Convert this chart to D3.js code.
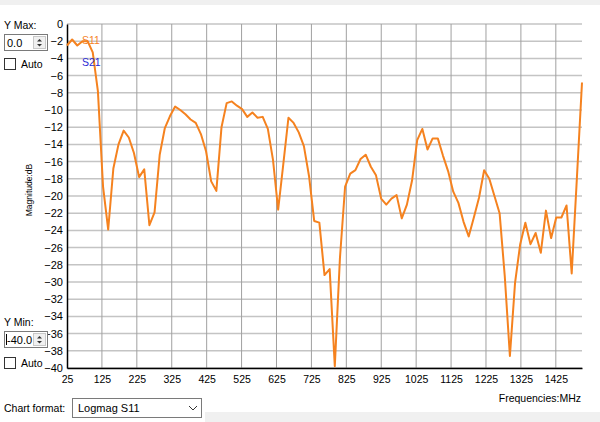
<!DOCTYPE html>
<html>
<head>
<meta charset="utf-8">
<script src="https://cdn.jsdelivr.net/npm/d3@7"></script>
<style>
  body { margin: 0; background: #ffffff; }
  svg { display: block; }
  .ui { font-family: "Liberation Sans", Arial, sans-serif; font-size: 10.5px; fill: #000; }
  .tick text { font-family: "Liberation Sans", Arial, sans-serif; }
</style>
</head>
<body>
<svg id="chart" width="600" height="422"></svg>
<script>
// sweep frequencies (MHz)
var freqs = [25, 39.75, 54.5, 69.25, 84, 98.75, 113.5, 128.25, 143, 157.75,
  172.5, 187.25, 202, 216.75, 231.5, 246.25, 261, 275.75, 290.5, 305.25,
  320, 334.75, 349.5, 364.25, 379, 393.75, 408.5, 423.25, 438, 452.75,
  467.5, 482.25, 497, 511.75, 526.5, 541.25, 556, 570.75, 585.5, 600.25,
  615, 629.75, 644.5, 659.25, 674, 688.75, 703.5, 718.25, 733, 747.75,
  762.5, 777.25, 792, 806.75, 821.5, 836.25, 851, 865.75, 880.5, 895.25,
  910, 924.75, 939.5, 954.25, 969, 983.75, 998.5, 1013.25, 1028, 1042.75,
  1057.5, 1072.25, 1087, 1101.75, 1116.5, 1131.25, 1146, 1160.75, 1175.5, 1190.25,
  1205, 1219.75, 1234.5, 1249.25, 1264, 1278.75, 1293.5, 1308.25, 1323, 1337.75,
  1352.5, 1367.25, 1382, 1396.75, 1411.5, 1426.25, 1441, 1455.75, 1470.5, 1485.25,
  1500];

// S11 logmag (dB)
var s11 = [-2.5, -1.8, -2.5, -2.0, -2.0, -3.3, -7.8, -18.9, -23.9, -16.8,
  -14.0, -12.4, -13.2, -15.0, -17.8, -16.9, -23.4, -21.9, -15.2, -12.1,
  -10.7, -9.6, -10.0, -10.5, -11.1, -11.5, -12.8, -14.8, -18.3, -19.4,
  -12.0, -9.2, -9.0, -9.5, -9.9, -10.8, -10.3, -10.9, -10.8, -12.2,
  -15.8, -21.6, -16.3, -10.9, -11.5, -12.6, -14.2, -17.7, -22.9, -23.1,
  -29.2, -28.5, -39.8, -27.2, -18.9, -17.4, -17.0, -15.7, -15.2, -16.6,
  -17.6, -20.3, -21.0, -20.3, -19.9, -22.6, -21.0, -18.2, -13.5, -12.2,
  -14.6, -13.3, -13.3, -15.3, -17.1, -19.5, -20.8, -23.0, -24.7, -22.5,
  -20.2, -17.0, -18.0, -20.0, -22.0, -29.3, -38.6, -30.1, -25.6, -23.1,
  -25.6, -24.3, -26.6, -21.7, -24.9, -22.5, -22.5, -21.1, -29.0, -18.0,
  -6.8];

var xTicks = [25, 125, 225, 325, 425, 525, 625, 725, 825, 925, 1025, 1125, 1225, 1325, 1425];
var yTicks = [0, -2, -4, -6, -8, -10, -12, -14, -16, -18, -20, -22, -24, -26, -28,
  -30, -32, -34, -36, -38, -40];

var svg = d3.select('#chart');

var margin = { top: 24, left: 67, bottom: 54, right: 18 };
var width = 600;
var height = 422;

var x = d3.scaleLinear().domain([25, 1500]).range([margin.left, width - margin.right]);
var y = d3.scaleLinear().domain([-40, 0]).range([height - margin.bottom, margin.top]);

// window strips
svg.append("rect").attr("x", 0).attr("y", 0).attr("width", width).attr("height", 5).attr("fill", "#f0f0f0");
svg.append("rect").attr("x", 205).attr("y", 412).attr("width", width - 205).attr("height", 10).attr("fill", "#f0f0f0");

// grid
svg.append("g").selectAll("line")
    .data(yTicks)
    .enter().append("line")
    .attr("x1", x(25)).attr("x2", x(1500))
    .attr("y1", function (d) { return y(d); })
    .attr("y2", function (d) { return y(d); })
    .attr("stroke", "#c4c4c4")
    .attr("stroke-width", 1.5);

svg.append("g").selectAll("line")
    .data(xTicks.slice(1))
    .enter().append("line")
    .attr("x1", function (d) { return x(d); })
    .attr("x2", function (d) { return x(d); })
    .attr("y1", y(0)).attr("y2", y(-40))
    .attr("stroke", "#a0a0a0")
    .attr("stroke-width", 1);

// axes
var xAxis = d3.axisBottom(x).tickValues(xTicks).tickSize(0).tickPadding(8).tickFormat(d3.format("d"));
var yAxis = d3.axisLeft(y).tickValues(yTicks).tickSize(0).tickPadding(4).tickFormat(d3.format("d"));

var gx = svg.append("g")
    .attr("transform", "translate(0," + y(-40) + ")")
    .call(xAxis);
gx.select(".domain").attr("stroke", "#000").attr("stroke-width", 1.5);
gx.selectAll("text").attr("font-size", "10.5px").attr("fill", "#000");

var gy = svg.append("g")
    .attr("transform", "translate(" + x(25) + ",0)")
    .call(yAxis);
gy.select(".domain").attr("stroke", "#000").attr("stroke-width", 1.5);
gy.selectAll("text").attr("font-size", "11px").attr("fill", "#000");

// S11 trace
var line = d3.line()
    .x(function (d, i) { return x(freqs[i]); })
    .y(function (d) { return y(d); });

svg.append("path")
    .datum(s11)
    .attr("d", line)
    .attr("fill", "none")
    .attr("stroke", "#f5821f")
    .attr("stroke-width", 2)
    .attr("stroke-linejoin", "round");

// legend labels
svg.append("text").attr("class", "ui").attr("x", 82).attr("y", 44)
    .style("fill", "#f5821f").text("S11");
svg.append("text").attr("class", "ui").attr("x", 82).attr("y", 66)
    .style("fill", "#2b2bd6").text("S21");

// axis titles
svg.append("text")
    .attr("class", "ui")
    .attr("transform", "translate(32,190) rotate(-90)")
    .style("text-anchor", "middle")
    .style("font-size", "8.5px")
    .text("Magnitude:dB");

svg.append("text")
    .attr("class", "ui")
    .attr("x", 581).attr("y", 402)
    .style("text-anchor", "end")
    .style("font-size", "10.5px")
    .text("Frequencies:MHz");

// left side controls
function spinBox(top, label, value) {
    svg.append("text").attr("class", "ui").attr("x", 4).attr("y", top - 5).text(label);
    svg.append("rect").attr("x", 4.5).attr("y", top + 0.5).attr("width", 43).attr("height", 16)
        .attr("fill", "#fff").attr("stroke", "#7a7a7a");
    svg.append("rect").attr("x", 33.5).attr("y", top + 2.5).attr("width", 12).attr("height", 12)
        .attr("fill", "#f0f0f0").attr("stroke", "#c8c8c8");
    svg.append("path").attr("d", "M37," + (top + 7.5) + "L39.5," + (top + 5) + "L42," + (top + 7.5) + "Z").attr("fill", "#333");
    svg.append("path").attr("d", "M37," + (top + 10) + "L39.5," + (top + 12.5) + "L42," + (top + 10) + "Z").attr("fill", "#333");
    svg.append("text").attr("class", "ui").attr("x", 7).attr("y", top + 12.5).style("font-size", "11px").text(value);
}

function checkBox(top) {
    svg.append("rect").attr("x", 4.5).attr("y", top + 0.5).attr("width", 11).attr("height", 11)
        .attr("fill", "#fff").attr("stroke", "#333");
    svg.append("text").attr("class", "ui").attr("x", 21).attr("y", top + 10).text("Auto");
}

spinBox(34, "Y Max:", "0.0");
checkBox(58);
spinBox(331, "Y Min:", "-40.0");
svg.append("line").attr("x1", 6.5).attr("x2", 6.5).attr("y1", 334).attr("y2", 345).attr("stroke", "#000");
checkBox(357);

svg.append("text").attr("class", "ui").attr("x", 4).attr("y", 412).text("Chart format:");
svg.append("rect").attr("x", 72.5).attr("y", 398.5).attr("width", 129).attr("height", 19)
    .attr("fill", "#fff").attr("stroke", "#7a7a7a");
svg.append("text").attr("class", "ui").attr("x", 78).attr("y", 412).style("font-size", "11px").text("Logmag S11");
svg.append("path").attr("d", "M189,406L193,410L197,406").attr("fill", "none").attr("stroke", "#333");
</script>
</body>
</html>
